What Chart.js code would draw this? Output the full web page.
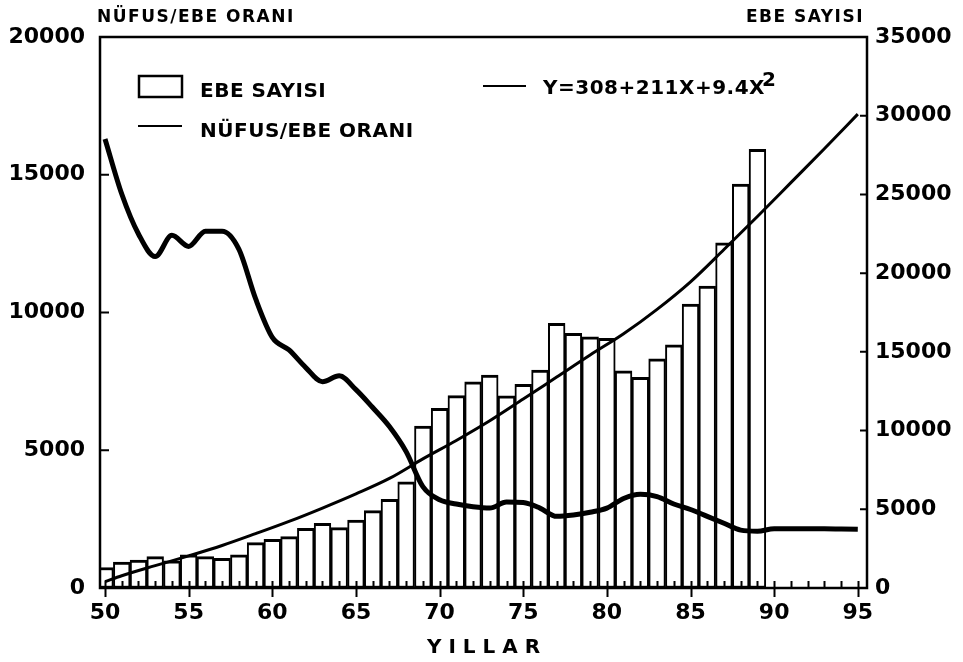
<!DOCTYPE html>
<html lang="tr">
<head>
<meta charset="utf-8">
<title>Nüfus / Ebe Oranı</title>
<script src="https://cdn.jsdelivr.net/npm/chart.js@4.4.1/dist/chart.umd.min.js"></script>
<style>
  body { margin: 0; background: #fff; }
  #wrap { width: 963px; height: 662px; }
</style>
</head>
<body>
<div id="wrap"><canvas id="ebeChart" width="963" height="662"></canvas></div>
<script>
// yıllar (19xx) ve ebe sayısı - çubuklar, sağ eksen
const barYears = [50, 51, 52, 53, 54, 55, 56, 57, 58, 59,
                  60, 61, 62, 63, 64, 65, 66, 67, 68, 69,
                  70, 71, 72, 73, 74, 75, 76, 77, 78, 79,
                  80, 81, 82, 83, 84, 85, 86, 87, 88, 89];
const ebeSayisi = [1300, 1650, 1780, 1990, 1720, 2100, 1990, 1880, 2100, 2880,
                   3090, 3260, 3790, 4110, 3830, 4320, 4910, 5630, 6750, 10290,
                   11410, 12220, 13100, 13530, 12200, 12940, 13850, 16810, 16180, 15960,
                   15860, 13800, 13380, 14550, 15440, 18040, 19180, 21930, 25660, 27870];

// nüfus / ebe oranı - kalın çizgi, sol eksen
const oranYears = [50, 51, 52, 53, 54, 55, 56, 57, 58, 59,
                   60, 61, 62, 63, 64, 65, 66, 67, 68, 69,
                   70, 71, 72, 73, 74, 75, 76, 77, 78, 79,
                   80, 81, 82, 83, 84, 85, 86, 87, 88, 89,
                   90, 91, 92, 93, 94, 95];
const nufusEbeOrani = [16300, 14300, 12850, 12030, 12800, 12400, 12950, 12950, 12300, 10500,
                       9100, 8640, 8000, 7490, 7700, 7200, 6550, 5860, 4950, 3680,
                       3200, 3050, 2950, 2900, 3120, 3100, 2900, 2600, 2650, 2750,
                       2900, 3250, 3400, 3320, 3050, 2850, 2600, 2350, 2100, 2060,
                       2150, 2150, 2150, 2150, 2140, 2130];

// regresyon eğrisi (resimden okunan noktalar) - sağ eksen
const fitYears = [50, 51, 53, 55, 57, 59, 61, 63, 65, 67, 69, 71,
                  73, 75, 77, 79, 81, 83, 85, 87, 89, 91, 93, 95];
const fitValues = [400, 780, 1420, 2040, 2700, 3450, 4230, 5080, 5980, 6960, 8200, 9370,
                   10620, 12000, 13400, 14800, 16150, 17700, 19450, 21500, 23600, 25750, 27900, 30100];

// eksen etiketleri
const xTicks = [50, 55, 60, 65, 70, 75, 80, 85, 90, 95];
const leftTicks = [0, 5000, 10000, 15000, 20000];
const rightTicks = [0, 5000, 10000, 15000, 20000, 25000, 30000, 35000];
const leftTitle = 'NÜFUS/EBE ORANI';
const rightTitle = 'EBE SAYISI';
const xTitle = 'Y I L L A R';

const FONT = '"DejaVu Sans", "Liberation Sans", sans-serif';
Chart.defaults.font.family = FONT;
Chart.defaults.color = '#000';

const toXY = (xs, ys) => xs.map((x, i) => ({ x: x, y: ys[i] }));

// çerçeve, iç tikler, eksen başlıkları ve lejant
const cizimPlugin = {
    id: 'cizim',
    afterDraw(chart) {
        const { ctx, chartArea: a, scales } = chart;
        ctx.save();
        ctx.strokeStyle = '#000';
        ctx.fillStyle = '#000';
        ctx.lineWidth = 2.5;
        ctx.strokeRect(a.left, a.top, a.right - a.left, a.bottom - a.top);

        // x ekseni tikleri (her yıl küçük, 5 yılda bir uzun)
        ctx.lineWidth = 2;
        ctx.beginPath();
        for (let v = 50; v <= 95; v++) {
            const px = Math.round(scales.x.getPixelForValue(v)) + 0.5;
            ctx.moveTo(px, a.bottom - 7);
            ctx.lineTo(px, a.bottom + (v % 5 === 0 ? 9 : 0));
        }
        scales.yL.ticks.forEach(t => {
            const py = scales.yL.getPixelForValue(t.value);
            ctx.moveTo(a.left, py);
            ctx.lineTo(a.left + 9, py);
        });
        scales.yR.ticks.forEach(t => {
            const py = scales.yR.getPixelForValue(t.value);
            ctx.moveTo(a.right - 7, py);
            ctx.lineTo(a.right, py);
        });
        ctx.stroke();

        // eksen başlıkları
        ctx.font = 'bold 17px ' + FONT;
        ctx.letterSpacing = '1.5px';
        ctx.textBaseline = 'alphabetic';
        ctx.textAlign = 'left';
        ctx.fillText(leftTitle, 97, 22);
        ctx.textAlign = 'right';
        ctx.fillText(rightTitle, 864, 22);

        // lejant
        const ds = chart.data.datasets;
        ctx.font = 'bold 20px ' + FONT;
        ctx.letterSpacing = '0.5px';
        ctx.textAlign = 'left';

        ctx.lineWidth = 2.5;
        ctx.fillStyle = '#fff';
        ctx.fillRect(139, 76, 43, 21);
        ctx.strokeRect(139, 76, 43, 21);
        ctx.fillStyle = '#000';
        ctx.fillText(ds[0].label, 200, 97);

        ctx.lineWidth = 2;
        ctx.beginPath();
        ctx.moveTo(138, 126);
        ctx.lineTo(182, 126);
        ctx.moveTo(483, 86);
        ctx.lineTo(526, 86);
        ctx.stroke();
        ctx.fillText(ds[1].label, 200, 137);

        const fitLabel = ds[2].label;
        const base = fitLabel.slice(0, -1);
        ctx.fillText(base, 543, 94);
        const w = ctx.measureText(base).width;
        ctx.fillText('2', 543 + w - 3, 86);
        ctx.restore();
    }
};

const ctx = document.getElementById('ebeChart').getContext('2d');
const ebeChart = new Chart(ctx, {
    data: {
        datasets: [
            {
                type: 'bar',
                label: 'EBE SAYISI',
                data: toXY(barYears, ebeSayisi),
                yAxisID: 'yR',
                backgroundColor: '#fff',
                borderColor: '#000',
                borderWidth: { top: 3, left: 2, right: 2, bottom: 2 },
                borderSkipped: false,
                barPercentage: 1,
                categoryPercentage: 1,
                order: 3
            },
            {
                type: 'line',
                label: 'NÜFUS/EBE ORANI',
                data: toXY(oranYears, nufusEbeOrani),
                yAxisID: 'yL',
                borderColor: '#000',
                borderWidth: 5,
                pointRadius: 0,
                cubicInterpolationMode: 'monotone',
                fill: false,
                order: 1
            },
            {
                type: 'line',
                label: 'Y=308+211X+9.4X²',
                data: toXY(fitYears, fitValues),
                yAxisID: 'yR',
                borderColor: '#000',
                borderWidth: 3,
                pointRadius: 0,
                cubicInterpolationMode: 'monotone',
                fill: false,
                order: 2
            }
        ]
    },
    options: {
        responsive: false,
        animation: false,
        layout: { padding: { top: 37, left: 0, right: 0, bottom: 0 } },
        plugins: {
            legend: { display: false },
            tooltip: { enabled: false }
        },
        scales: {
            x: {
                type: 'linear',
                position: 'bottom',
                offset: false,
                min: 49.7,
                max: 95.55,
                afterBuildTicks: s => { s.ticks = xTicks.map(v => ({ value: v })); },
                afterFit: s => { s.height = 74; },
                grid: { display: false, drawTicks: false, offset: false },
                border: { display: false },
                ticks: {
                    autoSkip: false,
                    maxRotation: 0,
                    padding: 12,
                    font: { size: 22, weight: 'bold' },
                    callback: v => String(v)
                },
                title: {
                    display: true,
                    text: xTitle,
                    font: { size: 20, weight: 'bold' },
                    padding: { top: 0, bottom: 2 }
                }
            },
            yL: {
                type: 'linear',
                position: 'left',
                min: 0,
                max: 20000,
                afterBuildTicks: s => { s.ticks = leftTicks.map(v => ({ value: v })); },
                afterFit: s => { s.width = 100; },
                grid: { drawOnChartArea: false, drawTicks: false },
                border: { display: false },
                ticks: {
                    padding: 15,
                    font: { size: 22, weight: 'bold' },
                    callback: v => String(v)
                }
            },
            yR: {
                type: 'linear',
                position: 'right',
                min: 0,
                max: 35000,
                afterBuildTicks: s => { s.ticks = rightTicks.map(v => ({ value: v })); },
                afterFit: s => { s.width = 96; },
                grid: { drawOnChartArea: false, drawTicks: false },
                border: { display: false },
                ticks: {
                    padding: 8,
                    font: { size: 22, weight: 'bold' },
                    callback: v => String(v)
                }
            }
        }
    },
    plugins: [cizimPlugin]
});
</script>
</body>
</html>
